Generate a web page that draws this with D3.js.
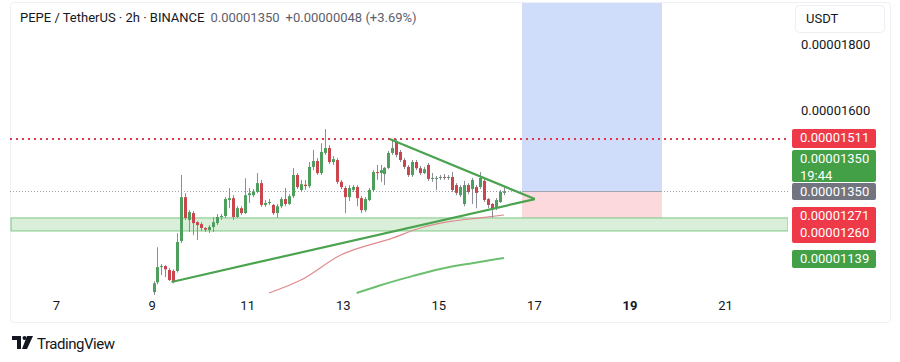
<!DOCTYPE html>
<html>
<head>
<meta charset="utf-8">
<script src="https://cdn.jsdelivr.net/npm/d3@7"></script>
<style>
  body { margin: 0; background: #fff; }
  svg { display: block; font-family: Roboto, "Noto Sans", sans-serif; }
</style>
</head>
<body>
<svg id="chart" width="900" height="362"></svg>
<script>
// prices are in units of 1e-8 USDT
const opens  = [1040,1070,1117,1120,1108,1105,1105,1197,1332,1262,1283,1255,1249,1237,1231,1240,1252,1271,1274,1323,1329,1271,1298,1283,1338,1338,1348,1375,1308,1314,1308,1283,1304,1326,1311,1335,1400,1354,1370,1366,1425,1443,1406,1468,1483,1440,1446,1379,1360,1332,1354,1363,1329,1292,1323,1354,1409,1406,1403,1422,1468,1504,1471,1446,1425,1400,1440,1421,1406,1431,1388,1391,1391,1394,1391,1394,1369,1338,1311,1369,1357,1363,1363,1382,1326,1311,1298,1317,1345];
const highs  = [1073,1178,1126,1123,1114,1110,1221,1400,1344,1292,1289,1258,1255,1240,1246,1270,1280,1280,1332,1360,1338,1304,1304,1390,1360,1357,1406,1385,1323,1326,1311,1311,1332,1360,1341,1422,1406,1385,1385,1440,1477,1452,1498,1541,1492,1458,1452,1385,1366,1369,1369,1369,1335,1332,1360,1415,1431,1431,1425,1474,1511,1511,1477,1452,1431,1446,1446,1428,1425,1437,1406,1397,1400,1403,1400,1409,1375,1369,1382,1375,1391,1369,1409,1388,1329,1314,1329,1354,1363];
const lows   = [1031,1064,1092,1086,1074,1067,1100,1191,1262,1225,1215,1200,1228,1225,1222,1225,1246,1262,1268,1298,1262,1268,1277,1280,1314,1332,1344,1302,1302,1308,1277,1268,1298,1304,1308,1329,1357,1348,1354,1360,1415,1400,1400,1462,1434,1431,1372,1357,1283,1320,1348,1304,1283,1286,1320,1348,1385,1379,1369,1418,1462,1455,1440,1418,1394,1394,1415,1400,1403,1382,1379,1354,1385,1385,1385,1348,1338,1332,1304,1341,1311,1298,1357,1317,1298,1268,1292,1314,1338];
const closes = [1067,1117,1120,1110,1077,1074,1194,1332,1268,1286,1252,1246,1237,1232,1240,1255,1271,1274,1326,1329,1271,1298,1283,1338,1344,1350,1375,1308,1314,1317,1283,1304,1326,1311,1335,1400,1363,1372,1366,1425,1443,1406,1471,1483,1440,1449,1379,1363,1332,1360,1363,1329,1292,1326,1354,1409,1406,1415,1422,1468,1483,1462,1446,1425,1400,1440,1421,1406,1418,1388,1391,1391,1394,1391,1394,1354,1345,1363,1369,1348,1385,1345,1391,1323,1308,1295,1323,1348,1350];
const firstDay = 9.04;       // first candle, day of month
const candlesPerDay = 12;    // 2h candles

const maRedIdx   = [29, 37, 47, 60, 67, 75, 82, 88];
const maRedVals  = [1037, 1077, 1154, 1206, 1237, 1258, 1268, 1277];
const maGreenIdx  = [51, 57, 65, 72, 80, 88];
const maGreenVals = [1037, 1061, 1089, 1111, 1129, 1145];

// triangle: [day, price]
const triLow  = [9.418, 1071];
const triHigh = [13.98, 1511];
const triApex = [17.02, 1326];

const zoneTop = 1268, zoneBottom = 1228;
const resistance = 1511;
const lastPrice = 1350;
const posStart = 16.75, posEnd = 19.68, posEntry = 1350, posStop = 1262, posTarget = 1990;

const dayTicks = [7, 9, 11, 13, 15, 17, 19, 21];
const priceTicks = [1600, 1800];

const fmt = p => (p * 1e-8).toFixed(8);

const svg = d3.select("#chart");
const plotL = 10, plotR = 788, plotT = 3, plotB = 322;

const x = d3.scaleLinear().domain([6.037, 22.317]).range([plotL, plotR]);
const y = d3.scaleLinear().domain([948, 1929]).range([plotB, plotT]);

svg.append("defs").append("clipPath").attr("id", "plot")
  .append("rect").attr("x", plotL).attr("y", plotT).attr("width", plotR - plotL).attr("height", plotB - plotT);

// frame
svg.append("rect")
  .attr("x", 10.5).attr("y", 2.5).attr("width", 880).attr("height", 320)
  .attr("rx", 3).attr("fill", "none").attr("stroke", "#eef0f3");

const plot = svg.append("g").attr("clip-path", "url(#plot)");

// long position tool
plot.append("rect")
  .attr("x", x(posStart)).attr("width", x(posEnd) - x(posStart))
  .attr("y", y(posTarget)).attr("height", y(posEntry) - y(posTarget))
  .attr("fill", "#cfdcfa");
plot.append("rect")
  .attr("x", x(posStart)).attr("width", x(posEnd) - x(posStart))
  .attr("y", y(posEntry)).attr("height", y(posStop) - y(posEntry))
  .attr("fill", "#fcd9dc");

// support zone
plot.append("rect")
  .attr("x", plotL + 1).attr("width", plotR - plotL - 1)
  .attr("y", y(zoneTop)).attr("height", y(zoneBottom) - y(zoneTop))
  .attr("fill", "#d9efda").attr("stroke", "#7fc683").attr("stroke-width", 1);

// resistance dotted line
plot.append("line")
  .attr("x1", plotL).attr("x2", plotR)
  .attr("y1", Math.round(y(resistance))).attr("y2", Math.round(y(resistance)))
  .attr("stroke", "#e0394a").attr("stroke-width", 2).attr("stroke-dasharray", "2,4");

// last price dotted line
plot.append("line")
  .attr("x1", plotL).attr("x2", plotR)
  .attr("y1", Math.round(y(lastPrice)) + 0.5).attr("y2", Math.round(y(lastPrice)) + 0.5)
  .attr("stroke", "#9ea1aa").attr("stroke-width", 1).attr("stroke-dasharray", "1,2");
plot.append("line")
  .attr("x1", x(posStart)).attr("x2", x(posEnd))
  .attr("y1", Math.round(y(posEntry)) + 0.5).attr("y2", Math.round(y(posEntry)) + 0.5)
  .attr("stroke", "#a3a6ae").attr("stroke-width", 1);

// moving averages
const line = d3.line().curve(d3.curveMonotoneX);
plot.append("path")
  .attr("d", line(maRedIdx.map((d, i) => [x(firstDay + d / candlesPerDay), y(maRedVals[i])])))
  .attr("fill", "none").attr("stroke", "#e08a8f").attr("stroke-width", 1.2);
plot.append("path")
  .attr("d", line(maGreenIdx.map((d, i) => [x(firstDay + d / candlesPerDay), y(maGreenVals[i])])))
  .attr("fill", "none").attr("stroke", "#6cc070").attr("stroke-width", 2);

// candles
const candles = opens.map((o, i) => ({ t: firstDay + i / candlesPerDay, o, h: highs[i], l: lows[i], c: closes[i] }));
const cg = plot.selectAll("g.candle").data(candles).enter().append("g").attr("class", "candle");
cg.append("line")
  .attr("x1", d => Math.round(x(d.t)) + 0.5).attr("x2", d => Math.round(x(d.t)) + 0.5)
  .attr("y1", d => y(d.h)).attr("y2", d => y(d.l))
  .attr("stroke", "#8a8d96").attr("stroke-width", 1);
cg.append("rect")
  .attr("x", d => Math.round(x(d.t)) - 1)
  .attr("width", 3)
  .attr("y", d => y(Math.max(d.o, d.c)))
  .attr("height", d => Math.max(1, Math.abs(y(d.o) - y(d.c))))
  .attr("fill", d => d.c >= d.o ? "#4e9e5e" : "#c9464f");

// triangle
plot.append("line")
  .attr("x1", x(triLow[0])).attr("y1", y(triLow[1]))
  .attr("x2", x(triApex[0])).attr("y2", y(triApex[1]))
  .attr("stroke", "#4ba34f").attr("stroke-width", 2.2);
plot.append("line")
  .attr("x1", x(triHigh[0])).attr("y1", y(triHigh[1]))
  .attr("x2", x(triApex[0])).attr("y2", y(triApex[1]))
  .attr("stroke", "#4ba34f").attr("stroke-width", 2.2);

// header
const head = svg.append("text").attr("x", 20).attr("y", 22).attr("font-size", 13);
head.append("tspan").attr("fill", "#131722").text("PEPE / TetherUS · 2h · BINANCE");
head.append("tspan").attr("fill", "#5d606b").attr("dx", 6).text(fmt(lastPrice));
head.append("tspan").attr("fill", "#5d606b").attr("dx", 6).text("+0.00000048 (+3.69%)");

// time axis
const xAxis = svg.append("g").attr("transform", "translate(0,301)")
  .call(d3.axisBottom(x).tickValues(dayTicks).tickSize(0).tickPadding(0));
xAxis.select(".domain").remove();
xAxis.selectAll("text")
  .attr("font-family", "Roboto, sans-serif").attr("font-size", 13).attr("fill", "#131722")
  .attr("font-weight", d => d === 19 ? "bold" : null);

// price axis
svg.append("rect").attr("x", 795.5).attr("y", 5.5).attr("width", 89).attr("height", 27)
  .attr("rx", 4).attr("fill", "#fff").attr("stroke", "#eceef2");
svg.append("text").attr("x", 806).attr("y", 23).attr("font-size", 13).attr("fill", "#131722").text("USDT");

svg.selectAll("text.ptick").data(priceTicks).enter().append("text")
  .attr("class", "ptick")
  .attr("x", 801).attr("y", d => y(d)).attr("dy", "0.35em")
  .attr("font-size", 13).attr("fill", "#131722")
  .text(d => fmt(d));

// price badges
function badge(yTop, h, color, lines) {
  svg.append("rect").attr("x", 792).attr("y", yTop).attr("width", 84).attr("height", h)
    .attr("rx", 2).attr("fill", color);
  lines.forEach((l, i) => {
    svg.append("text").attr("x", 800).attr("y", yTop + 13 + i * 17)
      .attr("font-size", 13).attr("fill", "#fff").text(l);
  });
}
const gy = Math.round(y(lastPrice));
badge(Math.round(y(resistance)) - 10, 19, "#ee3a48", [fmt(resistance)]);
badge(gy - 41, 32, "#43a047", [fmt(lastPrice), "19:44"]);
badge(gy - 8, 17, "#72757f", [fmt(lastPrice)]);
badge(Math.round(y(1271)) - 10, 36, "#ee3a48", [fmt(1271), fmt(1260)]);
badge(Math.round(y(1139)) - 10, 18, "#43a047", [fmt(1139)]);

// TradingView logo
const logo = svg.append("g").attr("transform", "translate(12,336)").attr("fill", "#131722");
logo.append("path").attr("d", "M0 0 H9 V13 H5 V4 H0 Z");
logo.append("circle").attr("cx", 12.5).attr("cy", 2).attr("r", 2);
logo.append("path").attr("d", "M15 0 H21 L15 13 H10 Z");
svg.append("text").attr("x", 37).attr("y", 349).attr("font-size", 15).attr("fill", "#131722")
  .attr("textLength", 78).text("TradingView");
</script>
</body>
</html>
